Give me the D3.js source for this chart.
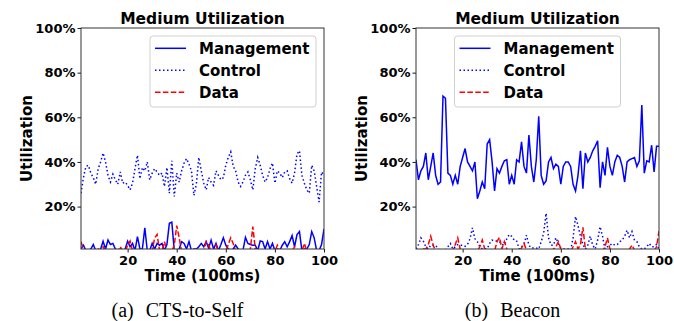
<!doctype html>
<html>
<head>
    <meta charset="utf-8">
    <title>Medium Utilization</title>
    <style>
        body { margin: 0; background: #fff; }
        svg text { font-family: "DejaVu Sans", sans-serif; font-weight: bold; fill: #000; }
        svg text.caption { font-family: "Liberation Serif", "Times New Roman", serif; font-weight: normal; }
    </style>
</head>
<body>

<svg id="chart" width="674" height="321"></svg>

<script src="https://d3js.org/d3.v7.min.js"></script>
<script>

    /* --- data (utilization in %, one value per 100ms step) --- */

    var seriesNames = ['Management', 'Control', 'Data'];
    var xTicks = [20, 40, 60, 80, 100];
    var yTicks = [20, 40, 60, 80, 100];
    var timeSteps = d3.range(1, 101);

    var ctsManagement = [1, 2.7, 0.3, 0.3, 1, 3, 0.3, 0.3, 1, 4.5,
        1, 5, 3, 3.5, 1, 0.3, 1, 0.3, 1, 4.5,
        2, 3.5, 0.3, 6.5, 1, 1, 10.5, 0.3, 0.3, 3.5,
        1, 3.5, 2.7, 3.5, 0.3, 3, 12.5, 13, 0.3, 0.3,
        1, 4.3, 3.5, 1, 4.3, 0.3, 1, 1, 2, 3.5,
        2, 4.3, 1.4, 5, 1, 3.5, 0.3, 3, 6, 2.7,
        1, 0.3, 1, 2.7, 1, 0.3, 0.5, 6.2, 3.5, 3,
        2.7, 2.7, 0.3, 4.6, 4.3, 1, 4.3, 1, 3.5, 0.3,
        1, 0.3, 2.7, 4.3, 2, 4.3, 7, 2, 7.5, 8.8,
        0.3, 1, 1, 3, 8.8, 6, 0.3, 0.3, 3, 10];

    var ctsControl = [26, 33, 38, 38.5, 35, 33, 30, 37, 40, 44,
        40, 34, 31, 34.5, 32, 30, 35.5, 30.5, 31, 29.5,
        27.5, 30.5, 37, 43, 32.5, 37.5, 36, 40, 32, 35,
        37, 35.5, 34, 35, 29, 37.5, 26, 40.5, 24.5, 35,
        31, 36, 39.5, 41.5, 39, 36, 25, 30, 42, 36,
        30.5, 27.5, 33, 31, 29.5, 36, 34, 32, 33, 38.5,
        42, 44.5, 38, 36, 31, 29, 31, 34, 35.5, 32,
        27.5, 37, 42, 38.5, 34, 31, 33, 37, 39.5, 30.5,
        36, 35, 33, 35.5, 36, 32.5, 30.5, 35, 43.5, 45,
        34, 30.5, 27.5, 26, 38.5, 36, 29, 22, 35.5, 34];

    var ctsData = [4.3, 1, 0, 0, 0, 0, 0, 1, 0, 2,
        0, 0, 0, 0, 0, 0, 2, 0, 0, 2.7,
        4.6, 0, 0, 0, 0, 0, 0, 0, 0, 0,
        6, 7.5, 0.5, 0, 4.3, 0, 0, 0, 2.7, 11.5,
        6, 0, 0, 0, 0, 0, 0, 0, 0, 0,
        0, 4.3, 2.7, 0, 0, 2.7, 0, 0, 0, 0,
        3, 6, 3.5, 0, 0, 0, 0, 0, 0, 1,
        11, 1, 0, 0, 0, 0, 0, 0, 0, 0,
        2.7, 0, 0, 0, 0, 0, 0, 2, 0, 0,
        0, 3.5, 0, 0, 0, 1, 0, 0, 0, 0];

    var beaconManagement = [41, 32, 36, 38, 44, 32, 38, 44, 34, 30,
        31, 69.5, 68.5, 35, 34, 30, 34, 30, 38, 42,
        46, 40, 38, 36, 40, 23.5, 27, 31, 28, 48,
        50, 40, 27, 37, 35, 38, 40.5, 41, 30, 34,
        30, 41, 40, 49, 38, 35, 52, 38, 31, 41,
        60.5, 34, 30, 31.5, 40, 42, 37, 39, 38, 30,
        38, 40, 40, 38, 30, 27, 34, 45, 28, 44,
        40, 42, 45, 47, 49.5, 28.5, 40, 34, 46.5, 38,
        34, 40, 43, 42, 38, 31, 40, 41, 41.5, 42,
        38, 40.5, 65.5, 35, 40.5, 40, 47.5, 35.5, 47, 47];

    var beaconControl = [1, 3, 6, 4.5, 2, 1, 2.7, 2.7, 2.7, 1,
        0.3, 0.3, 0.3, 2, 3.5, 1, 2, 3, 2.7, 2.7,
        2.2, 3, 5.6, 10.5, 5.6, 4.3, 2, 1, 1, 1,
        3.5, 5, 4.6, 4.6, 4.3, 3, 2.7, 5.6, 7.5, 6.7,
        5, 4.6, 1, 2, 3, 7.2, 2.7, 1.4, 1.4, 1.4,
        1, 4.3, 8, 17, 6, 2.7, 2.7, 6, 3.5, 1.5,
        1, 1, 1, 0.3, 6, 15.5, 11.5, 6.7, 3, 1,
        2.7, 6.7, 2.7, 1, 5, 11, 6.7, 1, 2, 2.7,
        3.5, 2.7, 3, 4.3, 5, 6.7, 9.4, 6, 8.8, 5,
        4.3, 2, 1, 1, 2, 3.5, 2, 2, 3, 1];

    var beaconData = [0, 0, 0, 1, 1, 3, 6.7, 2.7, 0, 0,
        0, 0, 0, 0, 0, 0, 3, 6, 1, 0,
        0, 0, 0, 0, 0, 0, 2, 5, 1, 0,
        0, 0, 0, 4.3, 6.2, 1, 4.3, 1, 0, 0,
        0, 0, 0, 1.5, 3.5, 0.5, 0, 0, 0, 0,
        0, 0, 0, 0, 0, 0, 1, 2, 4.3, 1,
        0, 0, 0, 0, 2, 4.3, 1, 3, 10.7, 1,
        0, 0, 0, 0, 0, 0, 0, 2, 6, 1,
        0, 0, 0, 0, 0, 0, 0, 1, 2.7, 0.5,
        0, 0, 0, 0, 0, 0, 0, 0, 2, 9];

    /* --- layout --- */

    var plotTop = 28, plotBottom = 249, plotWidth = 243;
    var lineStyles = [
        { color: '#0000ff', dash: null },
        { color: '#0000ff', dash: '1.5,2.5' },
        { color: '#ff0000', dash: '5.5,2.4' }
    ];

    var panels = [
        { id: 'cts', left: 81, label: '(a)', caption: 'CTS-to-Self', legendAlign: 'right',
          series: [ctsManagement, ctsControl, ctsData] },
        { id: 'beacon', left: 416, label: '(b)', caption: 'Beacon', legendAlign: 'center',
          series: [beaconManagement, beaconControl, beaconData] }
    ];

    var svg = d3.select('#chart');

    function drawPanel(p){
        var x = d3.scaleLinear().domain([1, 100]).range([p.left, p.left + plotWidth]);
        var y = d3.scaleLinear().domain([1, 100]).range([plotBottom, plotTop]);
        var g = svg.append('g');

        g.append('clipPath')
            .attr('id', 'clip-' + p.id)
            .append('rect')
            .attr('x', p.left).attr('y', plotTop)
            .attr('width', plotWidth).attr('height', plotBottom - plotTop);

        var line = d3.line()
            .x((d, i) => x(timeSteps[i]))
            .y(d => y(d));

        g.append('g')
            .attr('clip-path', 'url(#clip-' + p.id + ')')
            .selectAll('path')
            .data(p.series)
            .enter()
            .append('path')
            .attr('d', d => line(d))
            .attr('fill', 'none')
            .attr('stroke', (d, i) => lineStyles[i].color)
            .attr('stroke-width', 1.5)
            .attr('stroke-dasharray', (d, i) => lineStyles[i].dash);

        // axes
        var yAxis = g.append('g')
            .attr('transform', 'translate(' + p.left + ',0)')
            .call(d3.axisLeft(y).tickValues(yTicks).tickFormat(d => d + '%').tickSize(3.5).tickPadding(2));
        var xAxis = g.append('g')
            .attr('transform', 'translate(0,' + plotBottom + ')')
            .call(d3.axisBottom(x).tickValues(xTicks).tickSize(3.5).tickPadding(3));
        [yAxis, xAxis].forEach(a => {
            a.select('.domain').remove();
            a.selectAll('text').style('font-size', '13px').attr('fill', '#000');
            a.selectAll('line').attr('stroke', '#000').attr('stroke-width', 0.9);
        });

        g.append('rect')
            .attr('x', p.left).attr('y', plotTop)
            .attr('width', plotWidth).attr('height', plotBottom - plotTop)
            .attr('fill', 'none')
            .attr('stroke', '#333')
            .attr('stroke-width', 1);

        // texts
        g.append('text')
            .attr('x', p.left + plotWidth / 2).attr('y', 23.5)
            .attr('text-anchor', 'middle')
            .style('font-size', '15.5px')
            .text('Medium Utilization');

        g.append('text')
            .attr('x', p.left + plotWidth / 2).attr('y', 280.5)
            .attr('text-anchor', 'middle')
            .style('font-size', '15px')
            .text('Time (100ms)');

        g.append('text')
            .attr('transform', 'translate(' + (p.left - 49) + ',' + ((plotTop + plotBottom) / 2) + ') rotate(-90)')
            .attr('text-anchor', 'middle')
            .style('font-size', '15px')
            .text('Utilization');

        var capCenter = p.left + plotWidth / 2 - 25;
        var cap = g.append('text')
            .attr('class', 'caption')
            .attr('x', capCenter).attr('y', 317)
            .attr('text-anchor', 'middle')
            .style('font-size', '20px');
        cap.append('tspan').text(p.label);
        cap.append('tspan').attr('dx', 12).text(p.caption);

        // legend
        var boxW = 166, boxH = 71;
        var boxX = p.legendAlign == 'right' ? p.left + plotWidth - 8 - boxW : p.left + (plotWidth - boxW) / 2;
        var boxY = 36;
        var legend = g.append('g').attr('transform', 'translate(' + boxX + ',' + boxY + ')');
        legend.append('rect')
            .attr('width', boxW).attr('height', boxH)
            .attr('rx', 3)
            .attr('fill', '#fff').attr('fill-opacity', 0.8)
            .attr('stroke', '#d0d0d0').attr('stroke-width', 1);
        var item = legend.selectAll('g.item')
            .data(seriesNames)
            .enter()
            .append('g')
            .attr('class', 'item')
            .attr('transform', (d, i) => 'translate(0,' + (12.3 + i * 22) + ')');
        item.append('line')
            .attr('x1', 5).attr('x2', 36)
            .attr('stroke', (d, i) => lineStyles[i].color)
            .attr('stroke-width', 1.5)
            .attr('stroke-dasharray', (d, i) => lineStyles[i].dash);
        item.append('text')
            .attr('x', 49).attr('y', 5.5)
            .style('font-size', '15px')
            .text(d => d);
    }

    panels.forEach(drawPanel);

</script>

</body>
</html>
